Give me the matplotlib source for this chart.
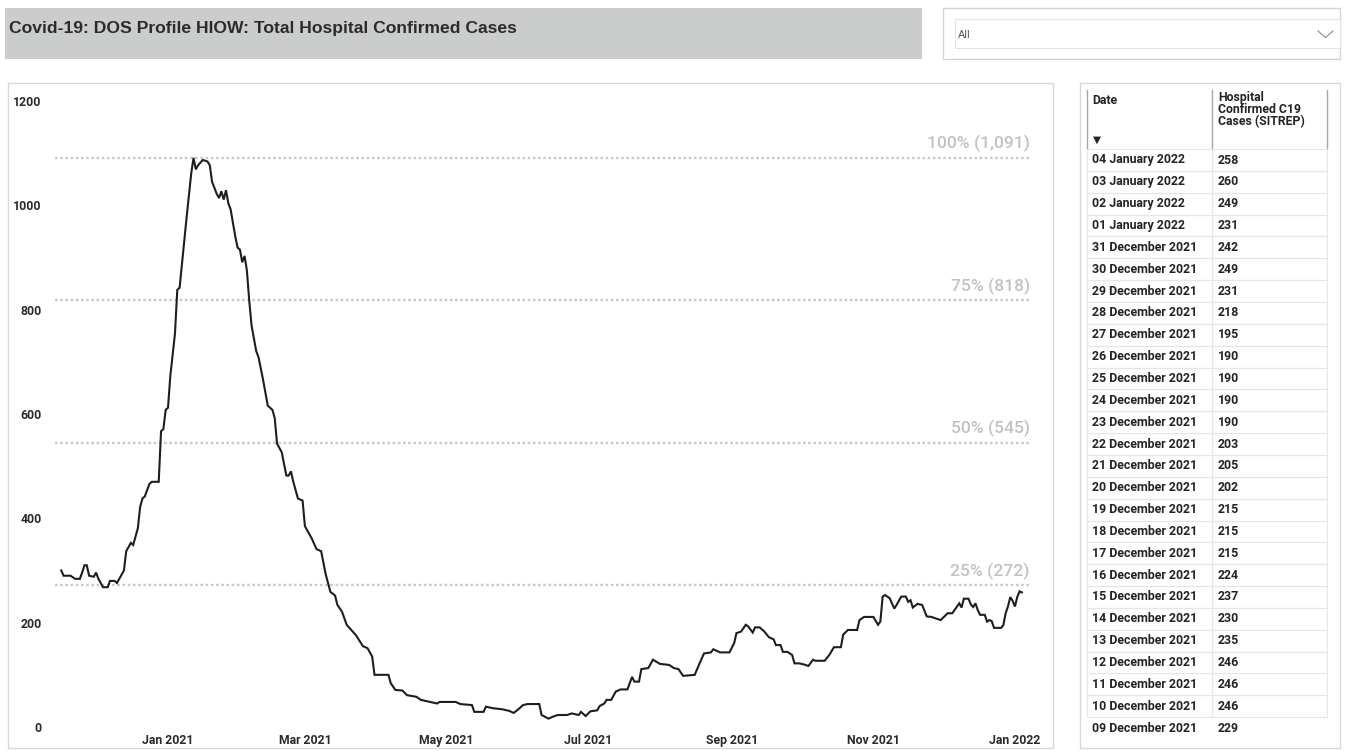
import matplotlib
matplotlib.use("Agg")
import matplotlib.pyplot as plt
import matplotlib.dates as mdates
from matplotlib.patches import Rectangle
from matplotlib.lines import Line2D
from matplotlib import font_manager
import datetime as dt

W, H = 1355, 751

# ---------------- data ----------------
title = "Covid-19: DOS Profile HIOW: Total Hospital Confirmed Cases"
slicer_value = "All"

series_dates = [
    "2020-11-16", "2020-11-17", "2020-11-20", "2020-11-22", "2020-11-24", "2020-11-25", "2020-11-26",
    "2020-11-27", "2020-11-28", "2020-11-30", "2020-12-01", "2020-12-02", "2020-12-04", "2020-12-06",
    "2020-12-07", "2020-12-09", "2020-12-10", "2020-12-11", "2020-12-13", "2020-12-14", "2020-12-16",
    "2020-12-17", "2020-12-19", "2020-12-20", "2020-12-21", "2020-12-22", "2020-12-24", "2020-12-25",
    "2020-12-28", "2020-12-29", "2020-12-30", "2020-12-31", "2021-01-01", "2021-01-02", "2021-01-04",
    "2021-01-05", "2021-01-06", "2021-01-08", "2021-01-09", "2021-01-11", "2021-01-12", "2021-01-13",
    "2021-01-14", "2021-01-16", "2021-01-18", "2021-01-19", "2021-01-20", "2021-01-22", "2021-01-23",
    "2021-01-24", "2021-01-25", "2021-01-26", "2021-01-27", "2021-01-28", "2021-01-30", "2021-01-31",
    "2021-02-01", "2021-02-02", "2021-02-03", "2021-02-04", "2021-02-05", "2021-02-06", "2021-02-08",
    "2021-02-09", "2021-02-11", "2021-02-13", "2021-02-15", "2021-02-16", "2021-02-17", "2021-02-19",
    "2021-02-21", "2021-02-22", "2021-02-23", "2021-02-24", "2021-02-26", "2021-02-28", "2021-03-01",
    "2021-03-04", "2021-03-06", "2021-03-08", "2021-03-10", "2021-03-12", "2021-03-14", "2021-03-15",
    "2021-03-17", "2021-03-19", "2021-03-20", "2021-03-23", "2021-03-26", "2021-03-28", "2021-03-30",
    "2021-03-31", "2021-04-06", "2021-04-07", "2021-04-09", "2021-04-12", "2021-04-14", "2021-04-18",
    "2021-04-20", "2021-04-24", "2021-04-27", "2021-04-28", "2021-05-05", "2021-05-07", "2021-05-12",
    "2021-05-13", "2021-05-17", "2021-05-18", "2021-05-21", "2021-05-25", "2021-05-28", "2021-05-30",
    "2021-06-01", "2021-06-03", "2021-06-05", "2021-06-10", "2021-06-11", "2021-06-14", "2021-06-16",
    "2021-06-18", "2021-06-22", "2021-06-24", "2021-06-27", "2021-06-28", "2021-06-30", "2021-07-02",
    "2021-07-05", "2021-07-06", "2021-07-08", "2021-07-09", "2021-07-11", "2021-07-13", "2021-07-15",
    "2021-07-18", "2021-07-20", "2021-07-21", "2021-07-23", "2021-07-24", "2021-07-27", "2021-07-29",
    "2021-08-01", "2021-08-05", "2021-08-07", "2021-08-09", "2021-08-11", "2021-08-16", "2021-08-18",
    "2021-08-20", "2021-08-23", "2021-08-24", "2021-08-27", "2021-08-31", "2021-09-02", "2021-09-03",
    "2021-09-05", "2021-09-07", "2021-09-08", "2021-09-10", "2021-09-11", "2021-09-13", "2021-09-15",
    "2021-09-17", "2021-09-19", "2021-09-20", "2021-09-22", "2021-09-23", "2021-09-25", "2021-09-27",
    "2021-09-28", "2021-09-30", "2021-10-02", "2021-10-04", "2021-10-06", "2021-10-07", "2021-10-11",
    "2021-10-13", "2021-10-15", "2021-10-18", "2021-10-19", "2021-10-21", "2021-10-25", "2021-10-26",
    "2021-10-28", "2021-11-01", "2021-11-03", "2021-11-04", "2021-11-05", "2021-11-06", "2021-11-08",
    "2021-11-10", "2021-11-11", "2021-11-13", "2021-11-15", "2021-11-16", "2021-11-17", "2021-11-18",
    "2021-11-20", "2021-11-22", "2021-11-24", "2021-11-26", "2021-11-28", "2021-11-30", "2021-12-03",
    "2021-12-05", "2021-12-08",
]
series_values = [
    300, 290, 290, 284, 284, 296, 310,
    310, 290, 288, 296, 284, 268, 268,
    280, 280, 276, 284, 300, 337, 353,
    349, 381, 422, 438, 442, 466, 470,
    470, 567, 571, 608, 612, 673, 754,
    838, 842, 932, 976, 1061, 1091, 1069,
    1077, 1087, 1084, 1077, 1045, 1022, 1014,
    1027, 1011, 1029, 1004, 992, 940, 919,
    915, 891, 903, 875, 818, 770, 721,
    709, 665, 616, 608, 592, 543, 527,
    482, 482, 490, 470, 438, 434, 385,
    361, 341, 337, 292, 259, 252, 234,
    221, 196, 191, 176, 155, 151, 135,
    100, 100, 84, 71, 70, 61, 58,
    52, 48, 45, 48, 48, 44, 42,
    29, 29, 39, 36, 34, 31, 27,
    34, 42, 44, 44, 23, 16, 20,
    23, 23, 26, 23, 29, 21, 30,
    32, 40, 45, 52, 52, 68, 72,
    72, 96, 87, 87, 111, 113, 129,
    121, 119, 113, 111, 98, 100, 121,
    141, 143, 149, 143, 143, 161, 180,
    183, 196, 193, 181, 191, 191, 183,
    172, 168, 157, 157, 144, 144, 138,
    122, 122, 120, 117, 129, 127, 127,
    138, 153, 153, 177, 186, 186, 205,
    211, 211, 196, 202, 250, 253, 247,
    227, 234, 250, 250, 240, 243, 229,
    236, 234, 212, 211, 208, 205, 218,
    218, 237,
]

table_header_date = "Date"
table_header_value = "Hospital\nConfirmed C19\nCases (SITREP)"
table_dates = [
    "04 January 2022", "03 January 2022", "02 January 2022", "01 January 2022",
    "31 December 2021", "30 December 2021", "29 December 2021", "28 December 2021",
    "27 December 2021", "26 December 2021", "25 December 2021", "24 December 2021",
    "23 December 2021", "22 December 2021", "21 December 2021", "20 December 2021",
    "19 December 2021", "18 December 2021", "17 December 2021", "16 December 2021",
    "15 December 2021", "14 December 2021", "13 December 2021", "12 December 2021",
    "11 December 2021", "10 December 2021", "09 December 2021",
]
table_values = [
    258, 260, 249, 231,
    242, 249, 231, 218,
    195, 190, 190, 190,
    190, 203, 205, 202,
    215, 215, 215, 224,
    237, 230, 235, 246,
    246, 246, 229,
]

ref_pcts = [100, 75, 50, 25]
ref_values = [1091, 818, 545, 272]

x_tick_dates = ["2021-01-01", "2021-03-01", "2021-05-01", "2021-07-01",
                "2021-09-01", "2021-11-01", "2022-01-01"]
y_ticks = [0, 200, 400, 600, 800, 1000, 1200]

# ---------------- fonts ----------------
avail = {f.name for f in font_manager.fontManager.ttflist}


def pick(*names):
    for n in names:
        if n in avail:
            return n
    return "DejaVu Sans"


TITLE_FONT = pick("Liberation Sans Narrow", "Liberation Sans")
UI_FONT = pick("Roboto", "Liberation Sans")

# ---------------- figure helpers ----------------
fig = plt.figure(figsize=(W / 100, H / 100), dpi=100)
fig.patch.set_facecolor("white")


def fx(x):
    return x / W


def fy(y):
    return 1 - y / H


def rect(x0, y0, x1, y1, **kw):
    fig.patches.append(Rectangle((fx(x0), fy(y1)), (x1 - x0) / W, (y1 - y0) / H,
                                 transform=fig.transFigure, **kw))


def line(xs, ys, **kw):
    fig.lines.append(Line2D([fx(x) for x in xs], [fy(y) for y in ys],
                            transform=fig.transFigure, **kw))


# title banner
rect(5, 8, 922, 59, facecolor="#cbcccc", edgecolor="none")
fig.text(fx(9), fy(28), title, fontsize=12.6, fontweight="bold", family=TITLE_FONT,
         color="#2b2b2b", va="center", ha="left")

# slicer
rect(943, 8, 1340, 59, facecolor="white", edgecolor="#d4d4d4", lw=1)
rect(955, 19, 1340, 48, facecolor="white", edgecolor="#e4e4e4", lw=0.8)
fig.text(fx(958), fy(35), slicer_value, fontsize=8, family=UI_FONT, color="#555555",
         va="center", ha="left")
line([1318, 1325.5, 1333], [31, 37.5, 31], color="#888888", lw=0.8)

# panels
rect(8, 83, 1053, 748, facecolor="white", edgecolor="#d8d8d8", lw=1)
rect(1080, 83, 1340, 748, facecolor="white", edgecolor="#d8d8d8", lw=1)

# ---------------- chart ----------------
all_dates = [dt.datetime.strptime(d, "%Y-%m-%d") for d in series_dates] + \
    [dt.datetime.strptime(d, "%d %B %Y") for d in reversed(table_dates)]
all_values = series_values + list(reversed(table_values))

ax = fig.add_axes([fx(55), fy(727), (1030 - 55) / W, (727 - 101) / H])
ax.set_zorder(5)
ax.set_facecolor("none")
x0 = dt.datetime(2021, 1, 1)
ax.set_xlim(mdates.date2num(x0) - 48.7, mdates.date2num(x0) + 371.5)
ax.set_ylim(0, 1200)

for pct, val in zip(ref_pcts, ref_values):
    ax.axhline(val, color="#c9c9c9", lw=1.7, ls=(0, (1.1, 1.1)), zorder=1)
    ax.annotate(f"{pct}% ({val:,})", xy=(1.0, val), xycoords=("axes fraction", "data"),
                xytext=(0, 4), textcoords="offset points", ha="right", va="bottom",
                fontsize=12.6, family=UI_FONT, color="#c2c2c2", fontweight="medium")

ax.plot(all_dates, all_values, color="#1e1e1e", lw=1.5, zorder=3, solid_joinstyle="miter")

ax.set_xticks([mdates.date2num(dt.datetime.strptime(d, "%Y-%m-%d")) for d in x_tick_dates])
ax.xaxis.set_major_formatter(mdates.DateFormatter("%b %Y"))
ax.set_yticks(y_ticks)
ax.tick_params(axis="both", length=0, labelsize=8.8, labelcolor="#2a2a2a")
ax.tick_params(axis="y", pad=9.5)
ax.tick_params(axis="x", pad=5)
for lab in ax.get_xticklabels() + ax.get_yticklabels():
    lab.set_fontweight("bold")
    lab.set_family(UI_FONT)
for s in ax.spines.values():
    s.set_visible(False)

# ---------------- table ----------------
col1_x, col2_x, col3_x = 1087, 1212, 1327
header_top, header_bot = 90, 148
for xv in (col1_x, col2_x, col3_x):
    line([xv, xv], [header_top, header_bot], color="#a8a8a8", lw=1)
fig.text(fx(1092), fy(94), table_header_date, fontsize=8.8, fontweight="bold",
         family=UI_FONT, color="#252423", va="top", ha="left")
fig.text(fx(1218), fy(91), table_header_value, fontsize=8.8, fontweight="bold",
         family=UI_FONT, color="#252423", va="top", ha="left", linespacing=0.9)
fig.text(fx(1097), fy(140), "\u25BC", fontsize=7.5, family="DejaVu Sans",
         color="#252423", va="center", ha="center")

row0, row_h = 160, 21.85
for i, (d, v) in enumerate(zip(table_dates, table_values)):
    yc = row0 + i * row_h
    if i < len(table_dates) - 1:
        rect(col1_x, yc - row_h / 2, col2_x, yc + row_h / 2, facecolor="none",
             edgecolor="#e6e6e6", lw=0.8)
        rect(col2_x, yc - row_h / 2, col3_x, yc + row_h / 2, facecolor="none",
             edgecolor="#e6e6e6", lw=0.8)
    fig.text(fx(1092), fy(yc), d, fontsize=8.9, fontweight="bold", family=UI_FONT,
             color="#252423", va="center", ha="left")
    fig.text(fx(1218), fy(yc), str(v), fontsize=8.9, fontweight="bold", family=UI_FONT,
             color="#252423", va="center", ha="left")

fig.savefig("out.png", dpi=100, facecolor="white")
